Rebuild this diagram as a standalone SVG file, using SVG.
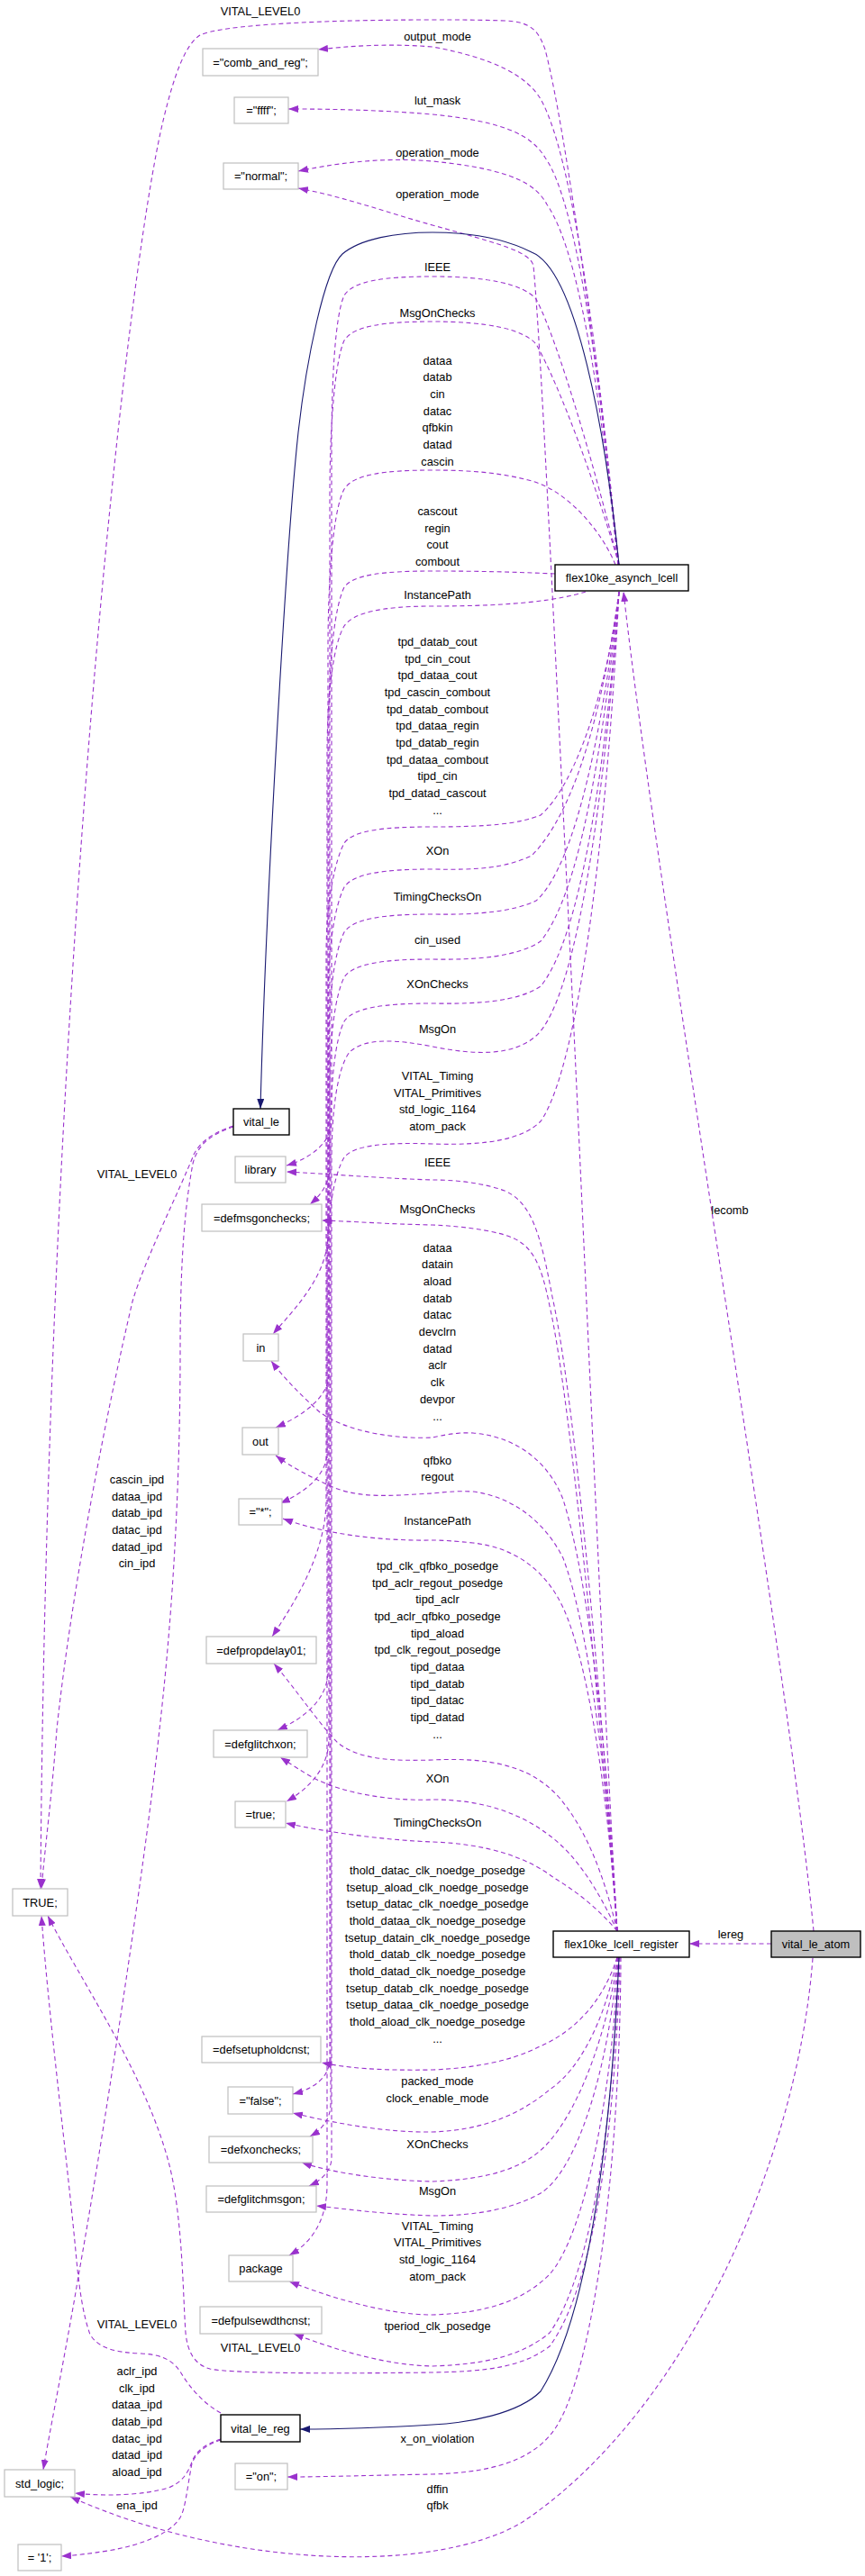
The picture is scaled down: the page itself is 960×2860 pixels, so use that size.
<svg xmlns="http://www.w3.org/2000/svg" width="960" height="2860" viewBox="0 0 960 2860">
<style>
text{font-family:"Liberation Sans",Arial,Helvetica,sans-serif;font-size:12.8px;fill:#000}
.l{text-anchor:middle}
.v rect{fill:#fff;stroke:#bfbfbf;stroke-width:1.2}
.c rect{fill:#fff;stroke:#000;stroke-width:1.4}
.g rect{fill:#bfbfbf;stroke:#000;stroke-width:1.4}
.d{fill:none;stroke:#9a32cd;stroke-width:1.1;stroke-dasharray:5,3.5;marker-end:url(#ap)}
.s{fill:none;stroke:#191970;stroke-width:1.1;marker-end:url(#an)}
</style>
<defs>
<marker id="ap" viewBox="0 0 11 8" refX="11" refY="4" markerWidth="11" markerHeight="8" markerUnits="userSpaceOnUse" orient="auto"><path d="M0,0 L11,4 L0,8 z" fill="#9a32cd"/></marker>
<marker id="an" viewBox="0 0 11 8" refX="11" refY="4" markerWidth="11" markerHeight="8" markerUnits="userSpaceOnUse" orient="auto"><path d="M0,0 L11,4 L0,8 z" fill="#191970"/></marker>
</defs>
<rect width="960" height="2860" fill="#fff"/>
<g id="edges">
<g id="e1"><path class="d" d="M687,627 C670,460 630,150 605,55 C598,35 590,24 560,23 C530,22 510,22 480,22 C350,22 245,28 222,39 C205,50 193,85 182,130 C140,300 52,1100 45,2097"/><text class="l" x="289" y="17">VITAL_LEVEL0</text></g>
<g id="e2"><path class="d" d="M686,627 C670,450 640,180 600,110 C585,85 550,65 480,52 C430,48 390,51 353,55"/><text class="l" x="485.5" y="44.5">output_mode</text></g>
<g id="e3"><path class="d" d="M686,627 C672,480 645,230 605,175 C590,150 560,135 480,127 C420,122 370,121 320,121"/><text class="l" x="485.5" y="116">lut_mask</text></g>
<g id="e4"><path class="d" d="M686,627 C672,500 650,290 607,227 C595,205 570,188 480,179 C420,174 370,182 331,190"/><text class="l" x="485.5" y="173.5">operation_mode</text></g>
<g id="e5"><path class="d" d="M685,2144 C670,1900 650,1400 628,960 C612,640 600,380 592,295 C588,280 560,272 480,250 C430,236 380,218 331,209"/><text class="l" x="485.5" y="219.5">operation_mode</text></g>
<g id="e6"><path class="d" d="M687,627 C660,520 620,380 595,332 C580,315 540,307 480,307 C425,307 392,312 382,328 C372,350 368,420 368,500 L368,1245 C368,1268 345,1286 318,1294"/><text class="l" x="485.5" y="300.5">IEEE</text></g>
<g id="e7"><path class="d" d="M687,627 C662,540 622,430 595,382 C580,365 540,357 480,357 C425,357 392,362 382,378 C372,400 366,470 366,550 L366,1295 C366,1314 356,1327 344,1337"/><text class="l" x="485.5" y="352">MsgOnChecks</text></g>
<g id="e8"><path class="d" d="M683,627 C668,590 630,545 590,534 C560,526 530,522 480,522 C425,522 392,527 382,543 C370,565 364,640 364,720 L364,1370 C364,1415 330,1450 303,1481"/><text class="l" x="485.5" y="404.5">dataa<tspan x="485.5" dy="18.67">datab</tspan><tspan x="485.5" dy="18.67">cin</tspan><tspan x="485.5" dy="18.67">datac</tspan><tspan x="485.5" dy="18.67">qfbkin</tspan><tspan x="485.5" dy="18.67">datad</tspan><tspan x="485.5" dy="18.67">cascin</tspan></text></g>
<g id="e9"><path class="d" d="M616,637 C570,635 530,634 480,634 C425,634 392,638 382,652 C372,672 365,730 365,800 L365,1525 C365,1552 335,1572 306,1585"/><text class="l" x="485.5" y="572">cascout<tspan x="485.5" dy="18.67">regin</tspan><tspan x="485.5" dy="18.67">cout</tspan><tspan x="485.5" dy="18.67">combout</tspan></text></g>
<g id="e10"><path class="d" d="M650,657 C620,666 575,673 480,673 C425,673 392,680 382,695 C370,715 363,770 363,840 L363,1612 C363,1637 340,1656 311,1669"/><text class="l" x="485.5" y="664.5">InstancePath</text></g>
<g id="e11"><path class="d" d="M687,657 C675,760 640,870 600,905 C575,915 540,918 480,918 C425,918 392,922 382,936 C372,955 362,1000 362,1060 L362,1665 C362,1722 330,1775 302,1817"/><text class="l" x="485.5" y="717">tpd_datab_cout<tspan x="485.5" dy="18.67">tpd_cin_cout</tspan><tspan x="485.5" dy="18.67">tpd_dataa_cout</tspan><tspan x="485.5" dy="18.67">tpd_cascin_combout</tspan><tspan x="485.5" dy="18.67">tpd_datab_combout</tspan><tspan x="485.5" dy="18.67">tpd_dataa_regin</tspan><tspan x="485.5" dy="18.67">tpd_datab_regin</tspan><tspan x="485.5" dy="18.67">tpd_dataa_combout</tspan><tspan x="485.5" dy="18.67">tipd_cin</tspan><tspan x="485.5" dy="18.67">tpd_datad_cascout</tspan><tspan x="485.5" dy="18.67">...</tspan></text></g>
<g id="e12"><path class="d" d="M687,657 C670,780 640,900 590,950 C560,964 530,966 480,965 C425,965 392,970 382,985 C372,1005 364,1050 364,1110 L364,1855 C364,1888 336,1908 308,1921"/><text class="l" x="485.5" y="949">XOn</text></g>
<g id="e13"><path class="d" d="M687,657 C670,800 640,960 595,1000 C570,1012 530,1016 480,1015 C425,1015 392,1020 382,1035 C372,1055 365,1100 365,1160 L365,1930 C365,1964 342,1986 318,2000"/><text class="l" x="485.5" y="999.5">TimingChecksOn</text></g>
<g id="e14"><path class="d" d="M687,657 C670,820 645,990 600,1045 C575,1062 530,1066 480,1065 C425,1065 392,1070 382,1085 C372,1105 366,1150 366,1210 L366,2285 C366,2307 348,2319 325,2325"/><text class="l" x="485.5" y="1048">cin_used</text></g>
<g id="e15"><path class="d" d="M687,657 C672,850 645,1040 600,1095 C575,1112 530,1115 480,1114 C425,1114 392,1119 382,1134 C372,1154 367,1200 367,1260 L367,2335 C367,2354 356,2365 344,2372"/><text class="l" x="485.5" y="1097">XOnChecks</text></g>
<g id="e16"><path class="d" d="M687,657 C672,880 640,1110 595,1150 C570,1172 530,1172 480,1162 C440,1154 405,1152 388,1168 C375,1185 368,1230 368,1290 L368,2395 C368,2411 356,2421 343,2427"/><text class="l" x="485.5" y="1147">MsgOn</text></g>
<g id="e17"><path class="d" d="M687,657 C675,900 645,1180 600,1245 C580,1265 540,1272 480,1270 C425,1268 392,1272 382,1285 C370,1305 363,1350 363,1410 L363,2425 C363,2470 342,2492 321,2504"/><text class="l" x="485.5" y="1199">VITAL_Timing<tspan x="485.5" dy="18.67">VITAL_Primitives</tspan><tspan x="485.5" dy="18.67">std_logic_1164</tspan><tspan x="485.5" dy="18.67">atom_pack</tspan></text></g>
<g id="e18"><path class="d" d="M685,2144 C672,1950 640,1560 613,1440 C600,1370 590,1335 560,1322 C535,1313 505,1310 480,1310 C420,1308 360,1303 318,1301"/><text class="l" x="485.5" y="1294.5">IEEE</text></g>
<g id="e19"><path class="d" d="M685,2144 C670,1950 635,1560 610,1450 C600,1400 590,1380 560,1371 C535,1364 505,1361 480,1360 C430,1359 390,1356 357,1355"/><text class="l" x="485.5" y="1347">MsgOnChecks</text></g>
<g id="e20"><path class="d" d="M685,2144 C675,1960 655,1760 625,1665 C610,1625 575,1595 525,1591 C505,1590 490,1594 480,1596 C440,1598 385,1590 355,1568 C335,1550 315,1530 301,1511"/><text class="l" x="485.5" y="1389.5">dataa<tspan x="485.5" dy="18.7">datain</tspan><tspan x="485.5" dy="18.7">aload</tspan><tspan x="485.5" dy="18.7">datab</tspan><tspan x="485.5" dy="18.7">datac</tspan><tspan x="485.5" dy="18.7">devclrn</tspan><tspan x="485.5" dy="18.7">datad</tspan><tspan x="485.5" dy="18.7">aclr</tspan><tspan x="485.5" dy="18.7">clk</tspan><tspan x="485.5" dy="18.7">devpor</tspan><tspan x="485.5" dy="18.7">...</tspan></text></g>
<g id="e21"><path class="d" d="M685,2144 C675,1990 655,1810 625,1730 C605,1690 570,1662 525,1656 C505,1655 490,1657 480,1658 C440,1660 400,1665 367,1650 C345,1640 322,1628 306,1616"/><text class="l" x="485.5" y="1625.5">qfbko<tspan x="485.5" dy="18.67">regout</tspan></text></g>
<g id="e22"><path class="d" d="M685,2144 C676,2010 655,1850 625,1785 C605,1742 570,1718 525,1713 C505,1711 490,1710 480,1710 C420,1711 360,1703 314,1686"/><text class="l" x="485.5" y="1693">InstancePath</text></g>
<g id="e23"><path class="d" d="M685,2144 C670,2080 650,2030 620,1995 C595,1968 560,1950 480,1954 C440,1955 400,1955 375,1935 C355,1915 328,1875 304,1847"/><text class="l" x="485.5" y="1743">tpd_clk_qfbko_posedge<tspan x="485.5" dy="18.67">tpd_aclr_regout_posedge</tspan><tspan x="485.5" dy="18.67">tipd_aclr</tspan><tspan x="485.5" dy="18.67">tpd_aclr_qfbko_posedge</tspan><tspan x="485.5" dy="18.67">tipd_aload</tspan><tspan x="485.5" dy="18.67">tpd_clk_regout_posedge</tspan><tspan x="485.5" dy="18.67">tipd_dataa</tspan><tspan x="485.5" dy="18.67">tipd_datab</tspan><tspan x="485.5" dy="18.67">tipd_datac</tspan><tspan x="485.5" dy="18.67">tipd_datad</tspan><tspan x="485.5" dy="18.67">...</tspan></text></g>
<g id="e24"><path class="d" d="M685,2144 C665,2100 640,2060 610,2038 C580,2015 540,1998 480,1998 C430,2000 380,1990 350,1975 C335,1967 322,1958 311,1951"/><text class="l" x="485.5" y="1979">XOn</text></g>
<g id="e25"><path class="d" d="M685,2144 C665,2120 640,2100 615,2085 C585,2062 540,2047 480,2045 C430,2043 365,2035 317,2024"/><text class="l" x="485.5" y="2028">TimingChecksOn</text></g>
<g id="e26"><path class="d" d="M685,2173 C670,2220 640,2255 597,2273 C570,2287 530,2296 480,2298 C420,2299 385,2296 357,2290"/><text class="l" x="485.5" y="2081">thold_datac_clk_noedge_posedge<tspan x="485.5" dy="18.67">tsetup_aload_clk_noedge_posedge</tspan><tspan x="485.5" dy="18.67">tsetup_datac_clk_noedge_posedge</tspan><tspan x="485.5" dy="18.67">thold_dataa_clk_noedge_posedge</tspan><tspan x="485.5" dy="18.67">tsetup_datain_clk_noedge_posedge</tspan><tspan x="485.5" dy="18.67">thold_datab_clk_noedge_posedge</tspan><tspan x="485.5" dy="18.67">thold_datad_clk_noedge_posedge</tspan><tspan x="485.5" dy="18.67">tsetup_datab_clk_noedge_posedge</tspan><tspan x="485.5" dy="18.67">tsetup_dataa_clk_noedge_posedge</tspan><tspan x="485.5" dy="18.67">thold_aload_clk_noedge_posedge</tspan><tspan x="485.5" dy="18.67">...</tspan></text></g>
<g id="e27"><path class="d" d="M685,2173 C670,2250 640,2300 610,2320 C580,2345 540,2365 480,2367 C430,2368 375,2358 325,2346"/><text class="l" x="485.5" y="2315">packed_mode<tspan x="485.5" dy="18.67">clock_enable_mode</tspan></text></g>
<g id="e28"><path class="d" d="M686,2173 C670,2280 630,2370 590,2395 C565,2412 530,2420 480,2422 C430,2421 370,2413 335,2401"/><text class="l" x="485.5" y="2384.5">XOnChecks</text></g>
<g id="e29"><path class="d" d="M686,2173 C675,2300 640,2410 600,2435 C570,2452 530,2460 480,2460 C420,2458 380,2452 351,2449"/><text class="l" x="485.5" y="2437">MsgOn</text></g>
<g id="e30"><path class="d" d="M686,2173 C680,2320 650,2480 610,2525 C580,2555 540,2568 480,2570 C430,2570 370,2552 321,2533"/><text class="l" x="485.5" y="2475.5">VITAL_Timing<tspan x="485.5" dy="18.67">VITAL_Primitives</tspan><tspan x="485.5" dy="18.67">std_logic_1164</tspan><tspan x="485.5" dy="18.67">atom_pack</tspan></text></g>
<g id="e31"><path class="d" d="M687,2173 C682,2330 660,2520 610,2590 C580,2615 540,2625 480,2627 C430,2626 375,2610 326,2591"/><text class="l" x="485.5" y="2587">tperiod_clk_posedge</text></g>
<g id="e32"><path class="d" d="M688,2173 C684,2330 665,2530 610,2605 C580,2628 540,2633 480,2634 C400,2635 260,2636 233,2630 C215,2625 208,2610 206,2590 C203,2550 203,2460 187,2400 C160,2300 90,2200 53,2127"/><text class="l" x="289" y="2611">VITAL_LEVEL0</text></g>
<g id="e33"><path class="d" d="M689,2173 C688,2400 660,2620 620,2690 C600,2725 560,2745 480,2747 C420,2748 360,2750 319,2750"/><text class="l" x="485.5" y="2712">x_on_violation</text></g>
<g id="e34"><path class="d" d="M259,1250 C235,1258 222,1268 215,1282 C200,1320 160,1400 147,1445 C120,1560 80,1760 63,1920 C58,1990 50,2050 46,2097"/><text class="l" x="152" y="1307.5">VITAL_LEVEL0</text></g>
<g id="e35"><path class="d" d="M259,1251 C232,1260 219,1272 214,1292 C205,1340 200,1400 200,1500 C200,1700 185,1850 177,1920 C160,2080 110,2400 87,2527 C75,2600 55,2700 48,2742"/><text class="l" x="152" y="1647">cascin_ipd<tspan x="152" dy="18.67">dataa_ipd</tspan><tspan x="152" dy="18.67">datab_ipd</tspan><tspan x="152" dy="18.67">datac_ipd</tspan><tspan x="152" dy="18.67">datad_ipd</tspan><tspan x="152" dy="18.67">cin_ipd</tspan></text></g>
<g id="e36"><path class="d" d="M245,2679 C225,2668 210,2650 200,2633 C190,2618 175,2614 157,2613 C130,2612 110,2608 100,2592 C92,2570 88,2540 85,2510 C75,2400 55,2250 46,2127"/><text class="l" x="152" y="2584.5">VITAL_LEVEL0</text></g>
<g id="e37"><path class="d" d="M245,2708 C230,2713 218,2720 213,2733 C208,2748 200,2757 187,2762 C160,2770 120,2772 83,2768"/><text class="l" x="152" y="2637">aclr_ipd<tspan x="152" dy="18.67">clk_ipd</tspan><tspan x="152" dy="18.67">dataa_ipd</tspan><tspan x="152" dy="18.67">datab_ipd</tspan><tspan x="152" dy="18.67">datac_ipd</tspan><tspan x="152" dy="18.67">datad_ipd</tspan><tspan x="152" dy="18.67">aload_ipd</tspan></text></g>
<g id="e38"><path class="d" d="M245,2709 C230,2714 218,2722 213,2735 C208,2760 206,2785 200,2795 C190,2812 160,2825 120,2832 C100,2835 85,2837 68,2838"/><text class="l" x="152" y="2785.5">ena_ipd</text></g>
<g id="e39"><path class="d" d="M902,2174 C885,2400 760,2680 580,2800 C480,2860 250,2850 78,2772"/><text class="l" x="485.5" y="2767.5">dffin<tspan x="485.5" dy="18.67">qfbk</tspan></text></g>
<g id="e40"><path class="d" d="M903,2144 C875,1850 730,1000 692,657"/><text class="l" x="810" y="1347.5">lecomb</text></g>
<g id="e41"><path class="d" d="M856,2158 L765,2158"/><text class="l" x="811" y="2152">lereg</text></g>
<g id="e42"><path class="s" d="M687,627 C672,480 640,300 590,280 C560,265 520,258 480,258 C440,258 400,265 380,282 C360,300 340,400 331,480 C318,600 295,1000 289,1231"/></g>
<g id="e43"><path class="s" d="M687,2173 C680,2330 660,2560 600,2655 C575,2680 520,2690 480,2692 C430,2695 380,2697 333,2697"/></g>
</g>
<g id="n_comb" class="v"><rect x="225" y="54" width="128" height="30"/><text class="l" x="289" y="73.5">="comb_and_reg";</text></g>
<g id="n_ffff" class="v"><rect x="260" y="108" width="60" height="29"/><text class="l" x="290" y="127">="ffff";</text></g>
<g id="n_normal" class="v"><rect x="248" y="181" width="83" height="29"/><text class="l" x="289.5" y="200">="normal";</text></g>
<g id="n_asynch" class="c"><rect x="616" y="627" width="148" height="29"/><text class="l" x="690" y="646">flex10ke_asynch_lcell</text></g>
<g id="n_vital_le" class="c"><rect x="259" y="1231" width="62" height="29"/><text class="l" x="290" y="1250">vital_le</text></g>
<g id="n_library" class="v"><rect x="261" y="1284" width="56" height="29"/><text class="l" x="289" y="1303">library</text></g>
<g id="n_defmsgonchecks" class="v"><rect x="224" y="1337" width="133" height="30"/><text class="l" x="290.5" y="1356.5">=defmsgonchecks;</text></g>
<g id="n_in" class="v"><rect x="270" y="1481" width="39" height="30"/><text class="l" x="289.5" y="1500.5">in</text></g>
<g id="n_out" class="v"><rect x="269" y="1585" width="40" height="30"/><text class="l" x="289" y="1604.5">out</text></g>
<g id="n_star" class="v"><rect x="265" y="1664" width="48" height="29"/><text class="l" x="289" y="1683">="*";</text></g>
<g id="n_defpropdelay01" class="v"><rect x="229" y="1817" width="122" height="30"/><text class="l" x="290" y="1836.5">=defpropdelay01;</text></g>
<g id="n_defglitchxon" class="v"><rect x="237" y="1921" width="104" height="30"/><text class="l" x="289" y="1940.5">=defglitchxon;</text></g>
<g id="n_true" class="v"><rect x="261" y="2000" width="56" height="29"/><text class="l" x="289" y="2019">=true;</text></g>
<g id="n_TRUE" class="v"><rect x="14" y="2097" width="61" height="30"/><text class="l" x="44.5" y="2116.5">TRUE;</text></g>
<g id="n_defsetupholdcnst" class="v"><rect x="224" y="2261" width="132" height="29"/><text class="l" x="290" y="2280">=defsetupholdcnst;</text></g>
<g id="n_false" class="v"><rect x="253" y="2317" width="72" height="30"/><text class="l" x="289" y="2336.5">="false";</text></g>
<g id="n_defxonchecks" class="v"><rect x="232" y="2372" width="115" height="29"/><text class="l" x="289.5" y="2391">=defxonchecks;</text></g>
<g id="n_register" class="c"><rect x="614" y="2144" width="151" height="29"/><text class="l" x="689.5" y="2163">flex10ke_lcell_register</text></g>
<g id="n_atom" class="g"><rect x="856" y="2144" width="99" height="29"/><text class="l" x="905.5" y="2163">vital_le_atom</text></g>
<g id="n_defglitchmsgon" class="v"><rect x="229" y="2427" width="122" height="29"/><text class="l" x="290" y="2446">=defglitchmsgon;</text></g>
<g id="n_package" class="v"><rect x="254" y="2504" width="71" height="29"/><text class="l" x="289.5" y="2523">package</text></g>
<g id="n_defpulsewdthcnst" class="v"><rect x="222" y="2561" width="135" height="30"/><text class="l" x="289.5" y="2580.5">=defpulsewdthcnst;</text></g>
<g id="n_vital_le_reg" class="c"><rect x="245" y="2681" width="88" height="30"/><text class="l" x="289" y="2700.5">vital_le_reg</text></g>
<g id="n_on" class="v"><rect x="261" y="2735" width="58" height="29"/><text class="l" x="290" y="2754">="on";</text></g>
<g id="n_std_logic" class="v"><rect x="5" y="2742" width="78" height="30"/><text class="l" x="44" y="2761.5">std_logic;</text></g>
<g id="n_one" class="v"><rect x="20" y="2825" width="48" height="29"/><text class="l" x="44" y="2844">= '1';</text></g>
</svg>
